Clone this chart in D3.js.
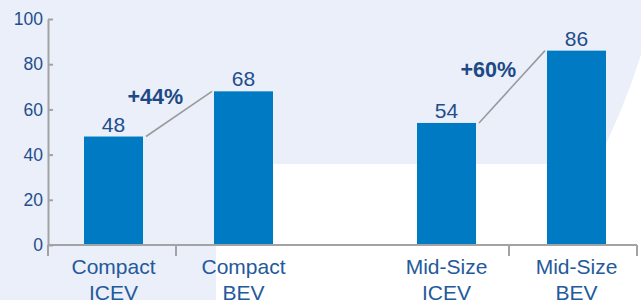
<!DOCTYPE html>
<html><head><meta charset="utf-8">
<script src="https://cdn.jsdelivr.net/npm/d3@7"></script>
<style>html,body{margin:0;padding:0;background:#fff;}svg{display:block;}</style>
</head><body>
<script>
const groups = ["Compact", "Mid-Size"];
const types = ["ICEV", "BEV"];
const values = {Compact: [48, 68], "Mid-Size": [54, 86]};
const changeLabels = ["+44%", "+60%"];
const yTicks = [0, 20, 40, 60, 80, 100];

const W = 641, H = 300;
const svg = d3.select("body").append("svg").attr("width", W).attr("height", H);
const font = "'Liberation Sans', Arial, Helvetica, sans-serif";

// background shapes
svg.append("rect").attr("width", W).attr("height", H).attr("fill", "#ffffff");
svg.append("circle").attr("cx", -18).attr("cy", -153).attr("r", 691).attr("fill", "#ebeff9");
svg.append("rect").attr("x", 216).attr("y", 164).attr("width", W - 216).attr("height", H - 164).attr("fill", "#ffffff");

const y = d3.scaleLinear().domain([0, 100]).range([245, 19]);
const xg = d3.scaleBand().domain(groups).range([48, 637]).paddingInner(77 / 333).paddingOuter(0);
const xi = d3.scaleBand().domain(types).range([2.5, xg.bandwidth() + 2.5]).paddingInner(0.546).paddingOuter(0.2577);

const axisColor = "#a3a3a6";
const textDark = "#1f4e8c";

// y axis
const yAxis = svg.append("g").attr("transform", "translate(48,0)")
  .call(d3.axisLeft(y).tickValues(yTicks).tickSizeInner(-5).tickSizeOuter(0).tickPadding(5));
yAxis.select(".domain").attr("stroke", axisColor).attr("stroke-width", 2);
yAxis.selectAll(".tick line").attr("stroke", axisColor).attr("stroke-width", 2).attr("x2", 5);
yAxis.selectAll(".tick text").attr("x", -5).attr("fill", textDark)
  .style("font-family", font).style("font-size", "17.5px");

// bars
const data = [];
groups.forEach(g => types.forEach((t, i) => data.push({g, t, v: values[g][i]})));
svg.selectAll("rect.bar").data(data).join("rect").attr("class", "bar")
  .attr("x", d => xg(d.g) + xi(d.t))
  .attr("y", d => y(d.v))
  .attr("width", xi.bandwidth())
  .attr("height", d => y(0) - y(d.v))
  .attr("fill", "#007bc3");

// x axis line and ticks
svg.append("line").attr("x1", 48).attr("x2", 637).attr("y1", y(0)).attr("y2", y(0))
  .attr("stroke", axisColor).attr("stroke-width", 2);
const xTickPos = [xg(groups[0]), xg(groups[0]) + xg.bandwidth() / 2, xg(groups[1]) + xg.bandwidth() / 2, xg(groups[1]) + xg.bandwidth()];
svg.selectAll("line.xt").data(xTickPos).join("line").attr("class", "xt")
  .attr("x1", d => d).attr("x2", d => d).attr("y1", y(0)).attr("y2", y(0) + 11)
  .attr("stroke", axisColor).attr("stroke-width", 2);

// category labels
const cat = svg.selectAll("text.cat").data(data).join("text").attr("class", "cat")
  .attr("text-anchor", "middle").attr("fill", "#24599b")
  .style("font-family", font).style("font-size", "21px");
cat.append("tspan").attr("x", d => xg(d.g) + xi(d.t) + xi.bandwidth() / 2).attr("y", 274).text(d => d.g);
cat.append("tspan").attr("x", d => xg(d.g) + xi(d.t) + xi.bandwidth() / 2).attr("y", 300).text(d => d.t);

// value labels
svg.selectAll("text.val").data(data).join("text").attr("class", "val")
  .attr("x", d => xg(d.g) + xi(d.t) + xi.bandwidth() / 2)
  .attr("y", d => y(d.v) - 5)
  .attr("text-anchor", "middle").attr("fill", textDark)
  .style("font-family", font).style("font-size", "21px")
  .text(d => d.v);

// connectors + change labels
groups.forEach((g, i) => {
  const x1 = xg(g) + xi("ICEV") + xi.bandwidth() + 3;
  const y1 = y(values[g][0]);
  const x2 = xg(g) + xi("BEV") - 2;
  const y2 = y(values[g][1]);
  svg.append("line").attr("x1", x1).attr("y1", y1).attr("x2", x2).attr("y2", y2)
    .attr("stroke", "#9a9a9c").attr("stroke-width", 1.6);
  const mx = (x1 + x2) / 2, my = (y1 + y2) / 2;
  svg.append("text").attr("x", mx + 4).attr("y", my - 10)
    .attr("text-anchor", "end").attr("fill", "#1d4a86")
    .style("font-family", font).style("font-size", "21.5px").style("font-weight", "bold")
    .text(changeLabels[i]);
});
</script>
</body></html>
